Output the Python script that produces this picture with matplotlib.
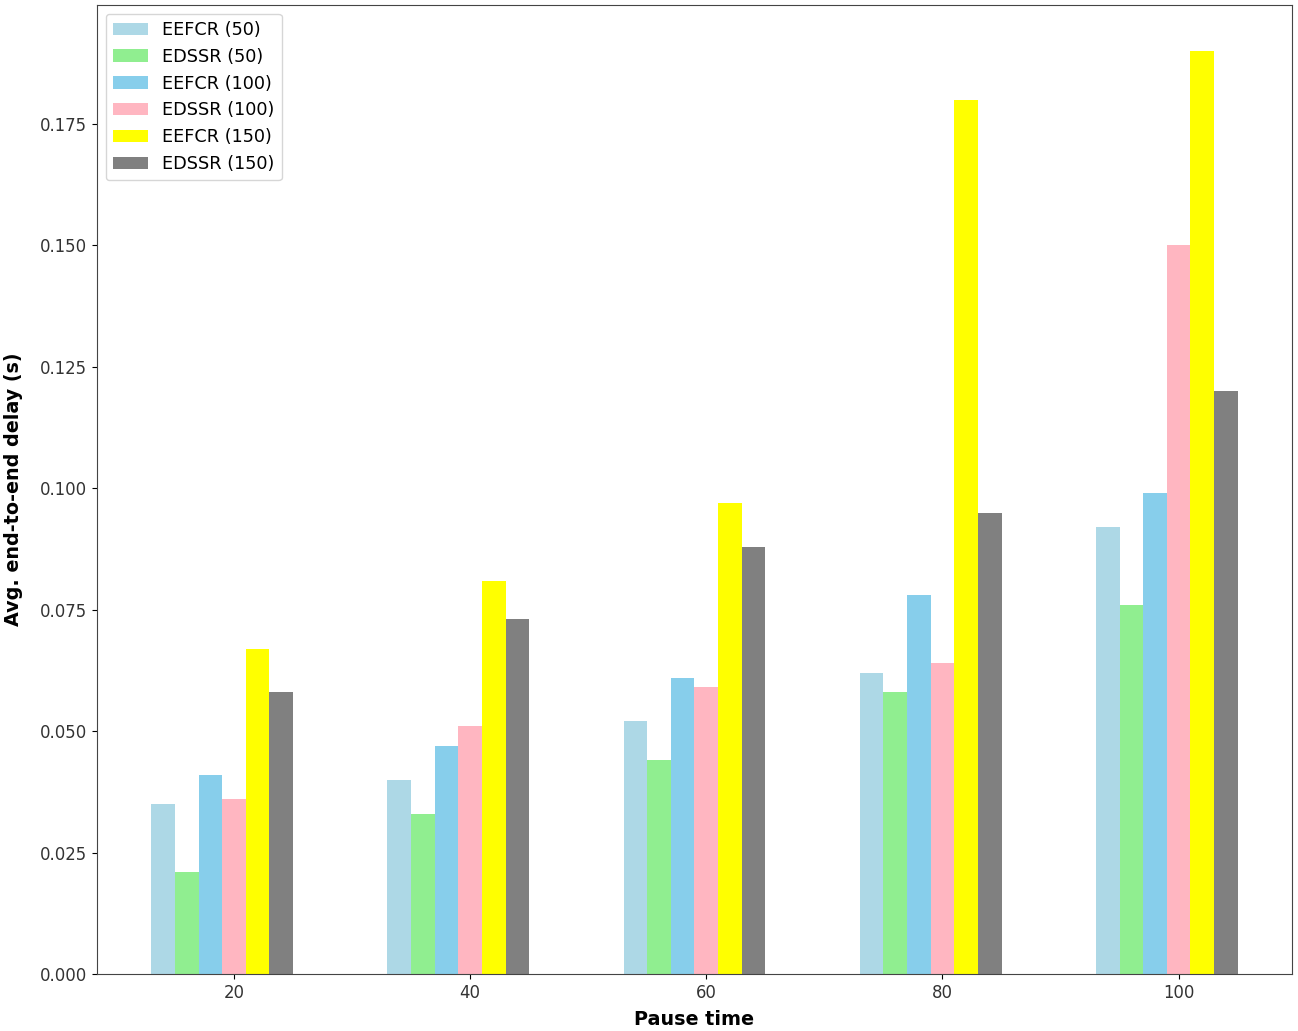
import numpy as np
import matplotlib
matplotlib.use("Agg")
import matplotlib.pyplot as plt

pause_times = ["20", "40", "60", "80", "100"]
series_labels = ["EEFCR (50)", "EDSSR (50)", "EEFCR (100)", "EDSSR (100)", "EEFCR (150)", "EDSSR (150)"]
eefcr_50 = [0.035, 0.040, 0.052, 0.062, 0.092]
edssr_50 = [0.021, 0.033, 0.044, 0.058, 0.076]
eefcr_100 = [0.041, 0.047, 0.061, 0.078, 0.099]
edssr_100 = [0.036, 0.051, 0.059, 0.064, 0.150]
eefcr_150 = [0.067, 0.081, 0.097, 0.180, 0.190]
edssr_150 = [0.058, 0.073, 0.088, 0.095, 0.120]
colors = ["lightblue", "lightgreen", "skyblue", "lightpink", "yellow", "gray"]

series = [eefcr_50, edssr_50, eefcr_100, edssr_100, eefcr_150, edssr_150]

fig = plt.figure(figsize=(12.98, 10.31), dpi=100)
ax = fig.add_axes([97 / 1298, 57 / 1031, 1195 / 1298, 969 / 1031])

x = np.arange(len(pause_times))
w = 0.1
for j, (vals, lab, c) in enumerate(zip(series, series_labels, colors)):
    ax.bar(x + (j - 3) * w, vals, w, label=lab, color=c)

ax.set_xticks(x)
ax.set_xticklabels(pause_times)
ax.tick_params(labelsize=11.9, labelcolor="#333333")
ax.set_xlabel("Pause time", fontsize=13.8, fontweight="bold", labelpad=6)
ax.set_ylabel("Avg. end-to-end delay (s)", fontsize=13.8, fontweight="bold", labelpad=12)
ax.legend(loc="upper left", fontsize=12.7)
for s in ax.spines.values():
    s.set_color("#444444")

fig.savefig("out.png", dpi=100)
